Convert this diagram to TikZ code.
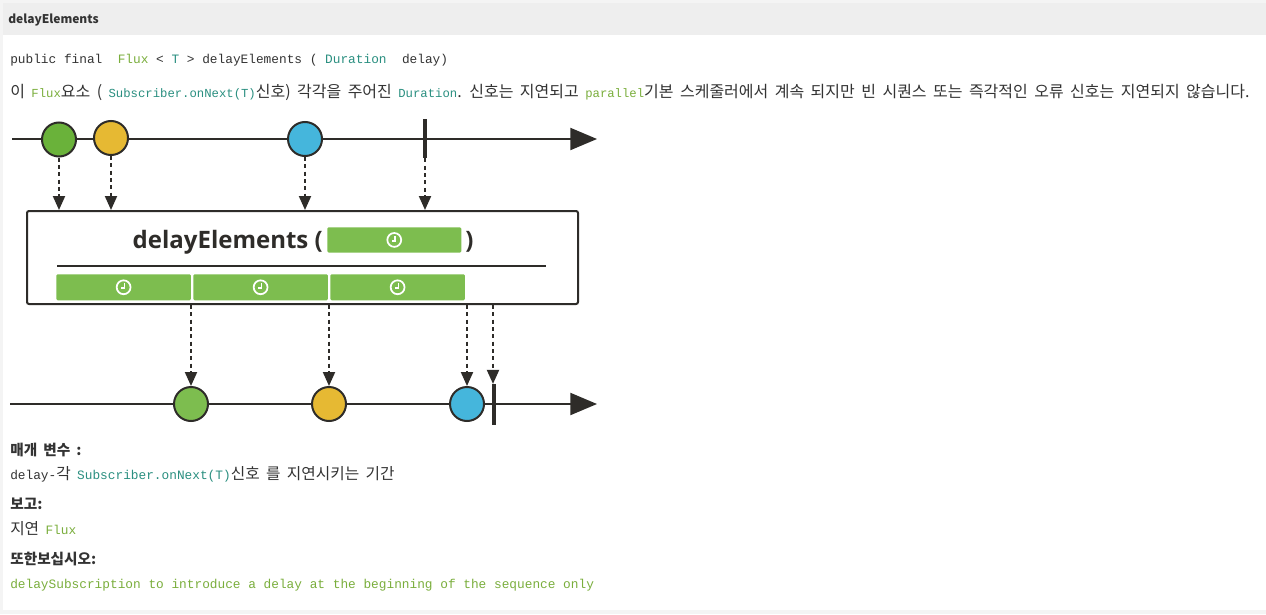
\documentclass[tikz,border=0pt]{standalone}
\usepackage{fontspec}
\setmainfont{Noto Sans CJK KR}[WordSpace=1.8]
\setmonofont{Liberation Mono}
\newfontfamily\titlef{Open Sans}
\usetikzlibrary{arrows.meta}
\definecolor{txt}{HTML}{333333}
\definecolor{dark}{HTML}{2E2C29}
\definecolor{hdr}{HTML}{EEEEEE}
\definecolor{pagebg}{HTML}{F4F4F4}
\definecolor{cgreen}{HTML}{6AB23A}
\definecolor{cgreenb}{HTML}{7DBD4F}
\definecolor{cyellow}{HTML}{E6B933}
\definecolor{cblue}{HTML}{45B6DC}
\definecolor{fluxg}{HTML}{7AAE3C}
\definecolor{teal}{HTML}{2A8F80}
\newcommand{\mono}[1]{{\ttfamily\fontsize{9.6pt}{11pt}\selectfont #1}}
\newcommand{\smono}[1]{{\ttfamily\fontsize{9.2pt}{11pt}\selectfont #1}}
\begin{document}
\begin{tikzpicture}[x=0.75pt,y=-0.75pt,
  marble/.style={circle,draw=dark,line width=1.5pt,minimum size=25.5pt,inner sep=0pt},
  termbar/.style={fill=dark,minimum width=3pt,minimum height=29.5pt,inner sep=0pt},
  axisline/.style={draw=dark,line width=1.5pt,-{Triangle[length=20pt,width=16.5pt]}},
  dasharrow/.style={draw=dark,line width=1.5pt,dash pattern=on 3pt off 2.5pt,-{Triangle[length=10.5pt,width=9pt]}},
  gbar/.style={fill=cgreenb,minimum width=101pt,minimum height=19.5pt,inner sep=0pt,rounded corners=1pt,anchor=north west},
  txtline/.style={anchor=base west,inner sep=0pt,text=txt,font=\fontsize{11.8pt}{13pt}\selectfont},
  bold/.style={anchor=base west,inner sep=0pt,text=txt,font=\fontsize{11pt}{13pt}\selectfont\bfseries},
  clock/.pic={\draw[white,line width=1.3pt] (0,0) circle (5.2pt);
              \draw[white,line width=1.2pt] (1,-4) -- (1,1) -- (-2.5,1);}
]
% page
\fill[pagebg] (0,0) rectangle (1266,614);
\fill[white] (3,3) rectangle (1266,610);
\fill[hdr] (3,3) rectangle (1266,35);
\useasboundingbox (0,0) rectangle (1266,614);

\node[anchor=base west,inner sep=0pt,text=txt,font=\fontsize{9pt}{11pt}\selectfont\bfseries] (hd) at (8,23) {delayElements};

\node[anchor=base west,inner sep=0pt,text=txt] (sig) at (10,63)
  {\mono{public final\ \ \textcolor{fluxg}{Flux} \textless{} \textcolor{teal}{T} \textgreater{} delayElements ( \textcolor{teal}{Duration}\ \ delay)}};

\node[txtline,font=\fontsize{12pt}{13pt}\selectfont] (desc) at (10,97)
  {이 \smono{\textcolor{fluxg}{Flux}}요소 ( \smono{\textcolor{teal}{Subscriber.onNext(T)}}신호) 각각을 주어진 \smono{\textcolor{teal}{Duration}}. 신호는 지연되고 \smono{\textcolor{fluxg}{parallel}}기본 스케줄러에서 계속 되지만 빈 시퀀스 또는 즉각적인 오류 신호는 지연되지 않습니다.};

% top timeline
\coordinate (a1s) at (12,139);
\coordinate (a1e) at (597,139);
\draw[axisline] (a1s) -- (a1e);
\node[marble,fill=cgreen] (c1) at (59,139.5) {};
\node[marble,fill=cyellow] (c2) at (111,138) {};
\node[marble,fill=cblue] (c3) at (305,139) {};
\node[termbar] (t1) at (425,138.5) {};

% operator box
\node[draw=dark,line width=1.5pt,rounded corners=1.5pt,minimum width=413.25pt,minimum height=69.75pt,inner sep=0pt,anchor=north west] (box) at (26,210) {};
\node[anchor=base east,inner sep=0pt,text=dark,font=\titlef\fontsize{18pt}{20pt}\selectfont\bfseries] (ttl) at (323,248) {delayElements (};
\node[fill=cgreenb,minimum width=100.5pt,minimum height=19pt,inner sep=0pt,rounded corners=1pt,anchor=north west] (dur) at (327,227) {};
\pic at (dur.center) {clock};
\node[anchor=base west,inner sep=0pt,text=dark,font=\titlef\fontsize{18pt}{20pt}\selectfont\bfseries] (cls) at (465,248) {)};
\coordinate (hl1) at (57,266);
\coordinate (hl2) at (546,266);
\draw[dark,line width=1.5pt] (hl1) -- (hl2);
\node[gbar] (b1) at (56,274) {};
\node[gbar] (b2) at (193,274) {};
\node[gbar] (b3) at (330,274) {};
\pic at (b1.center) {clock};
\pic at (b2.center) {clock};
\pic at (b3.center) {clock};

% arrows into box
\draw[dasharrow] (c1.south) -- (c1.south |- box.north);
\draw[dasharrow] (c2.south) -- (c2.south |- box.north);
\draw[dasharrow] (c3.south) -- (c3.south |- box.north);
\draw[dasharrow] (t1.south) -- (t1.south |- box.north);

% bottom timeline
\coordinate (a2s) at (10,404);
\coordinate (a2e) at (597,404);
\draw[axisline] (a2s) -- (a2e);
\node[marble,fill=cgreenb] (d1) at (191,404) {};
\node[marble,fill=cyellow] (d2) at (329,404) {};
\node[marble,fill=cblue] (d3) at (467,404) {};
\node[termbar,minimum height=30.5pt] (t2) at (494,404.5) {};

\draw[dasharrow] (d1.north |- box.south) -- (d1.north);
\draw[dasharrow] (d2.north |- box.south) -- (d2.north);
\draw[dasharrow] (d3.north |- box.south) -- (d3.north);
\draw[dasharrow] ([xshift=-0.75pt]t2.north |- box.south) -- ([xshift=-0.75pt]t2.north);

% lower text
\node[bold] (p1) at (10,455) {매개 변수 :};
\node[txtline] (p2) at (10,479) {\mono{delay-}각 \mono{\textcolor{teal}{Subscriber.onNext(T)}}신호 를 지연시키는 기간};
\node[bold] (p3) at (10,509) {보고:};
\node[txtline] (p4) at (10,534) {지연 \mono{\textcolor{fluxg}{Flux}}};
\node[bold] (p5) at (10,564) {또한보십시오:};
\node[txtline] (p6) at (10,588) {\mono{\textcolor{fluxg}{delaySubscription to introduce a delay at the beginning of the sequence only}}};
\end{tikzpicture}
\end{document}
